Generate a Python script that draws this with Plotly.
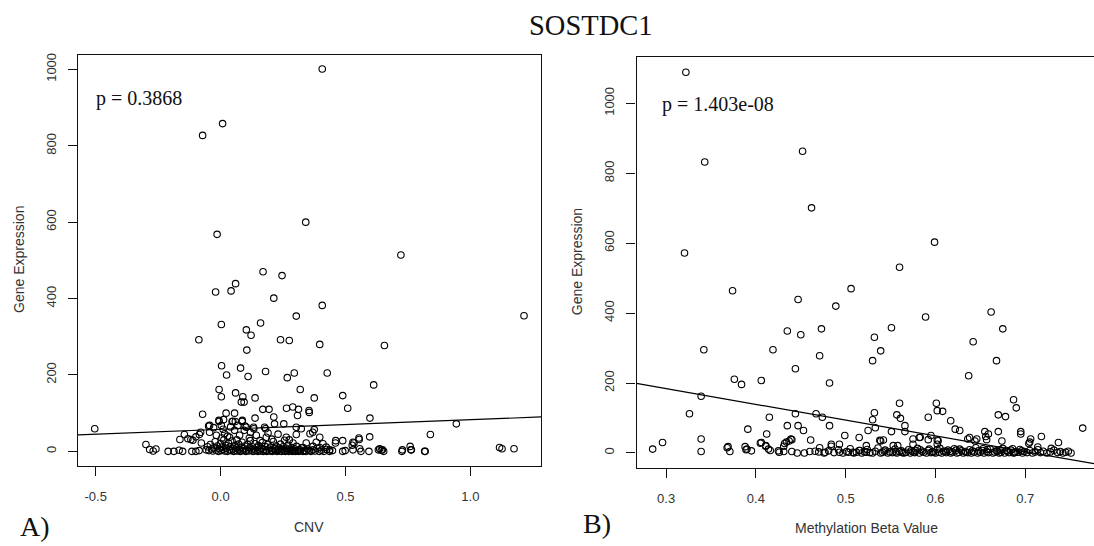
import plotly.graph_objects as go

# ---- Panel A: copy number variation vs gene expression ----
cnv_points = [
    (0.407, 1001), (0.008, 858), (-0.072, 827), (0.341, 600), (-0.014, 568), (0.722, 514),
    (0.170, 470), (0.246, 460), (0.060, 439), (0.042, 420), (-0.020, 417), (0.213, 401),
    (0.407, 382), (1.215, 355), (0.303, 354), (0.160, 336), (0.003, 332), (0.103, 318),
    (0.122, 304), (-0.087, 292), (0.240, 292), (0.275, 290), (0.397, 280), (0.656, 277),
    (0.105, 265), (0.004, 224), (0.080, 218), (0.180, 209), (0.295, 205), (0.427, 205),
    (0.024, 200), (0.110, 196), (0.267, 193), (0.613, 174), (-0.006, 162), (0.319, 162),
    (0.060, 153), (0.489, 146), (0.003, 143), (0.089, 143), (0.138, 140), (0.375, 140),
    (0.083, 129), (0.094, 129), (0.169, 110), (0.194, 110), (0.264, 113), (0.289, 116),
    (0.312, 110), (0.509, 113), (-0.072, 97), (0.022, 100), (0.056, 100), (0.355, 102),
    (0.308, 94), (0.138, 87), (0.213, 90), (0.598, 87), (0.046, 78), (0.059, 78),
    (0.086, 78), (-0.006, 78), (0.944, 72), (0.253, 72), (0.216, 72), (-0.504, 59),
    (0.098, 66), (0.133, 59), (0.180, 59), (0.323, 59), (-0.048, 66), (0.597, 38),
    (0.840, 44), (0.303, 44), (0.358, 46), (0.369, 50), (0.375, 57), (-0.085, 44),
    (-0.080, 50), (-0.099, 38), (-0.145, 44), (-0.163, 31), (-0.119, 31), (0.555, 31),
    (0.461, 28), (0.489, 28), (0.534, 22), (0.527, 16), (0.460, 22), (0.759, 13),
    (-0.299, 18), (1.117, 10), (1.127, 7), (1.175, 7),
    (-0.284, 5), (-0.270, 1), (-0.259, 6), (-0.210, 0), (-0.187, 0), (-0.166, 3),
    (-0.152, 0), (-0.115, 0), (-0.099, 0), (-0.086, 2), (0.489, 0), (0.499, 2),
    (0.530, 4), (0.562, 0), (0.594, 0), (0.632, 4), (0.643, 3), (0.653, 0),
    (0.726, 0), (0.762, 4), (0.819, 0), (0.728, 4), (0.764, 4), (0.817, 0),
    (-0.007, 81), (0.012, 83), (0.003, 68), (-0.044, 68), (-0.028, 62), (0.049, 79),
    (0.087, 81), (0.069, 68), (0.056, 55), (0.103, 63), (0.132, 63), (0.176, 63),
    (0.303, 63), (-0.044, 50), (-0.017, 42), (0.016, 46), (0.036, 37), (0.076, 42),
    (0.143, 42), (0.183, 37), (0.263, 37), (-0.111, 29), (-0.077, 22), (-0.131, 33),
    (0.256, 29), (0.290, 22), (0.343, 22), (0.354, 107), (0.397, 37), (0.383, 24),
    (0.410, 20), (0.423, 11), (0.437, 4), (0.397, 10), (0.370, 13), (0.330, 10),
    (0.530, 24), (0.554, 35), (0.557, 7), (0.637, 7), (0.648, 4),
    (0.005, 35), (0.028, 40), (0.065, 30), (0.115, 35), (0.158, 28), (0.205, 32),
    (0.230, 45), (0.275, 30), (0.120, 50), (0.095, 55), (0.190, 48), (0.010, 58),
    (0.040, 64),
    (-0.058, 4), (-0.052, 12), (-0.047, 2), (-0.041, 18), (-0.036, 6), (-0.031, 1),
    (-0.027, 9), (-0.022, 25), (-0.018, 3), (-0.013, 14), (-0.009, 0), (-0.005, 7),
    (-0.001, 20), (0.002, 2), (0.006, 11), (0.010, 5), (0.013, 30), (0.017, 1),
    (0.020, 16), (0.024, 8), (0.027, 0), (0.031, 22), (0.035, 4), (0.038, 12),
    (0.042, 2), (0.046, 27), (0.049, 6), (0.053, 0), (0.057, 15), (0.061, 3),
    (0.064, 9), (0.068, 1), (0.072, 19), (0.075, 5), (0.079, 0), (0.083, 11),
    (0.086, 24), (0.090, 2), (0.094, 7), (0.097, 14), (0.101, 0), (0.105, 4),
    (0.108, 18), (0.112, 1), (0.116, 9), (0.119, 28), (0.123, 3), (0.127, 12),
    (0.130, 0), (0.134, 6), (0.138, 20), (0.141, 2), (0.145, 10), (0.149, 0),
    (0.152, 15), (0.156, 4), (0.160, 1), (0.163, 8), (0.167, 23), (0.171, 0),
    (0.174, 5), (0.178, 13), (0.182, 2), (0.185, 0), (0.189, 18), (0.193, 6),
    (0.196, 1), (0.200, 11), (0.204, 3), (0.207, 0), (0.211, 26), (0.215, 7),
    (0.218, 2), (0.222, 14), (0.226, 0), (0.229, 4), (0.233, 9), (0.237, 1),
    (0.240, 19), (0.244, 0), (0.248, 6), (0.251, 12), (0.255, 2), (0.259, 0),
    (0.262, 8), (0.266, 3), (0.270, 16), (0.273, 0), (0.277, 5), (0.281, 1),
    (0.285, 10), (0.289, 0), (0.292, 3), (0.296, 7), (0.300, 0), (0.304, 13),
    (0.308, 2), (0.312, 0), (0.316, 5), (0.320, 1), (0.325, 9), (0.330, 0),
    (0.336, 3), (0.342, 0), (0.348, 6), (0.355, 2), (0.362, 0), (0.370, 4),
    (0.378, 1), (0.386, 8), (0.395, 0), (0.404, 3), (0.414, 0), (0.425, 5),
    (0.436, 0), (0.448, 2),
]
cnv_fit = (57.5, 25.35)          # intercept, slope of the least-squares line
cnv_p = "p = 0.3868"

# ---- Panel B: methylation beta value vs gene expression ----
meth_points = [
    (0.322, 1089), (0.343, 832), (0.452, 863), (0.462, 701), (0.599, 603), (0.3205, 572),
    (0.560, 531), (0.374, 464), (0.506, 470), (0.447, 439), (0.489, 420), (0.589, 389),
    (0.662, 403), (0.675, 355), (0.473, 355), (0.551, 358), (0.435, 349), (0.450, 338),
    (0.532, 331), (0.642, 318), (0.342, 295), (0.419, 295), (0.539, 292), (0.471, 278),
    (0.530, 264), (0.668, 264), (0.444, 241), (0.637, 221), (0.376, 211), (0.406, 207),
    (0.384, 196), (0.482, 200), (0.339, 162), (0.560, 142), (0.601, 142), (0.687, 152),
    (0.690, 129), (0.602, 121), (0.608, 119), (0.326, 112), (0.444, 112), (0.467, 112),
    (0.532, 115), (0.557, 109), (0.670, 109), (0.415, 102), (0.474, 102), (0.592, 102),
    (0.678, 104), (0.530, 95), (0.561, 99), (0.617, 92), (0.435, 78), (0.447, 78),
    (0.482, 78), (0.533, 72), (0.566, 78), (0.764, 71), (0.391, 68), (0.453, 64),
    (0.525, 64), (0.622, 68), (0.627, 64), (0.566, 61), (0.551, 61), (0.670, 61),
    (0.695, 61), (0.655, 61), (0.659, 54), (0.695, 54), (0.412, 54), (0.499, 50),
    (0.515, 44), (0.595, 50), (0.582, 44), (0.706, 40), (0.718, 47), (0.339, 40),
    (0.439, 40), (0.437, 34), (0.461, 37), (0.542, 37), (0.539, 34), (0.602, 37),
    (0.638, 44), (0.656, 47), (0.296, 30), (0.432, 27), (0.406, 30), (0.737, 30),
    (0.704, 27), (0.674, 34), (0.369, 18), (0.388, 18), (0.411, 21), (0.484, 25),
    (0.493, 25), (0.575, 25), (0.602, 25), (0.714, 17), (0.729, 13), (0.285, 11),
    (0.339, 4), (0.371, 4), (0.390, 11), (0.395, 6), (0.414, 11), (0.425, 6),
    (0.431, 4), (0.440, 4), (0.446, 0), (0.454, 0), (0.460, 4),
    (0.603, 35), (0.636, 40), (0.646, 40), (0.644, 34), (0.657, 38), (0.705, 31),
    (0.538, 36), (0.553, 21), (0.558, 21), (0.523, 21), (0.583, 45), (0.592, 38),
    (0.575, 40), (0.368, 15), (0.389, 9), (0.405, 28), (0.411, 19), (0.416, 7),
    (0.426, 2), (0.431, 19), (0.434, 31), (0.440, 38), (0.466, 5), (0.471, 15),
    (0.477, 2), (0.484, 19), (0.493, 2), (0.503, 2), (0.508, 2), (0.516, 7), (0.523, 2),
    (0.470, 3), (0.476, 0), (0.481, 6), (0.487, 1), (0.492, 9), (0.497, 0),
    (0.501, 4), (0.505, 12), (0.509, 0), (0.512, 2), (0.515, 7), (0.518, 0),
    (0.521, 3), (0.524, 10), (0.527, 1), (0.530, 0), (0.533, 5), (0.536, 14),
    (0.539, 0), (0.541, 2), (0.544, 8), (0.547, 0), (0.549, 3), (0.552, 1),
    (0.555, 11), (0.557, 0), (0.560, 4), (0.562, 6), (0.565, 0), (0.567, 2),
    (0.570, 9), (0.572, 0), (0.575, 3), (0.577, 1), (0.580, 13), (0.582, 0),
    (0.585, 5), (0.587, 2), (0.590, 0), (0.592, 7), (0.595, 1), (0.597, 4),
    (0.600, 0), (0.602, 10), (0.604, 2), (0.607, 0), (0.609, 5), (0.612, 1),
    (0.614, 8), (0.617, 0), (0.619, 3), (0.621, 12), (0.624, 0), (0.626, 2),
    (0.629, 6), (0.631, 0), (0.633, 4), (0.636, 1), (0.638, 9), (0.640, 0),
    (0.643, 3), (0.645, 15), (0.647, 0), (0.650, 2), (0.652, 7), (0.654, 0),
    (0.657, 4), (0.659, 1), (0.661, 11), (0.664, 0), (0.666, 3), (0.668, 6),
    (0.671, 0), (0.673, 2), (0.675, 13), (0.677, 0), (0.680, 5), (0.682, 1),
    (0.684, 8), (0.687, 0), (0.689, 3), (0.692, 2), (0.694, 10), (0.697, 0),
    (0.699, 4), (0.702, 1), (0.705, 7), (0.708, 0), (0.711, 3), (0.714, 9),
    (0.717, 1), (0.720, 5), (0.724, 0), (0.728, 3), (0.732, 8), (0.736, 1),
    (0.739, 4), (0.742, 0), (0.745, 2), (0.748, 5), (0.751, 0),
    (0.556, 3), (0.578, 7), (0.598, 2), (0.611, 5), (0.623, 8), (0.634, 2),
    (0.648, 6), (0.658, 10), (0.669, 4), (0.679, 7), (0.688, 1), (0.696, 6),
    (0.583, 9), (0.563, 1), (0.543, 5), (0.605, 13), (0.627, 11), (0.653, 12),
    (0.672, 9), (0.686, 12), (0.641, 6), (0.616, 4), (0.593, 11), (0.573, 6),
]
meth_fit = (319.4, -451.0)
meth_p = "p = 1.403e-08"

# ---- axis settings ----
cnv_range = [-0.571, 1.283]
expr_range_a = [-39.1, 1038]
meth_range = [0.267, 0.7766]
expr_range_b = [-43.9, 1131.4]

cnv_ticks = [-0.5, 0.0, 0.5, 1.0]
cnv_ticktext = ["-0.5", "0.0", "0.5", "1.0"]
meth_ticks = [0.3, 0.4, 0.5, 0.6, 0.7]
meth_ticktext = ["0.3", "0.4", "0.5", "0.6", "0.7"]
expr_ticks = [0, 200, 400, 600, 800, 1000]

W, H = 1094, 546
SERIF = "Liberation Serif, Times New Roman, serif"
SANS = "Liberation Sans, Arial, sans-serif"

fig = go.Figure()

marker = dict(symbol="circle-open", size=6.5, color="black", line=dict(width=1.1))


def add_panel(points, fit, xr, xa, ya):
    xs = [p[0] for p in points]
    ys = [p[1] for p in points]
    fig.add_trace(go.Scatter(x=xs, y=ys, mode="markers", marker=marker,
                             xaxis=xa, yaxis=ya, showlegend=False, hoverinfo="x+y"))
    b0, b1 = fit
    fig.add_trace(go.Scatter(x=xr, y=[b0 + b1 * v for v in xr], mode="lines",
                             line=dict(color="black", width=1.2),
                             xaxis=xa, yaxis=ya, showlegend=False, hoverinfo="skip"))


add_panel(cnv_points, cnv_fit, cnv_range, "x", "y")
add_panel(meth_points, meth_fit, meth_range, "x2", "y2")

tickfont = dict(family=SANS, size=13, color="#333333")
common = dict(showgrid=False, zeroline=False, showline=True, linecolor="#111111",
              linewidth=1.3, ticks="outside", ticklen=9, tickwidth=1.1,
              tickcolor="#111111", tickfont=tickfont)

fig.update_layout(
    width=W, height=H,
    margin=dict(l=0, r=0, t=0, b=0),
    paper_bgcolor="white", plot_bgcolor="white",
    xaxis=dict(domain=[78 / W, 541 / W], range=cnv_range, tickvals=cnv_ticks,
               ticktext=cnv_ticktext, mirror=True, anchor="y",
               ticklabelstandoff=9, **common),
    yaxis=dict(domain=[1 - 466 / H, 1 - 53 / H], range=expr_range_a, tickvals=expr_ticks,
               tickangle=-90, mirror=True, anchor="x", ticklabelstandoff=7, **common),
    xaxis2=dict(domain=[636.5 / W, 1.0], range=meth_range, tickvals=meth_ticks,
                ticktext=meth_ticktext, mirror=True, anchor="y2",
                ticklabelstandoff=9, **common),
    yaxis2=dict(domain=[1 - 468 / H, 1 - 55.6 / H], range=expr_range_b, tickvals=expr_ticks,
                tickangle=-90, mirror=False, anchor="x2", ticklabelstandoff=7, **common),
)


def label(text, px, py, size, family, angle=0, xanchor="center", color="#111111"):
    fig.add_annotation(text=text, x=px / W, y=1 - py / H, xref="paper", yref="paper",
                       showarrow=False, textangle=angle, xanchor=xanchor, yanchor="middle",
                       font=dict(family=family, size=size, color=color))


label("SOSTDC1", 591, 23.5, 28.5, SERIF)
label("Gene Expression", 19.6, 258.3, 14, SANS, angle=-90, color="#333333")
label("Gene Expression", 576.7, 260.5, 14, SANS, angle=-90, color="#333333")
label("CNV", 308.7, 527, 14, SANS, color="#333333")
label("Methylation Beta Value", 866.8, 528, 14, SANS, color="#333333")
label("A)", 35, 526, 28, SERIF)
label("B)", 596.5, 523, 28, SERIF)
label(cnv_p, 94.3, 96.7, 20, SERIF, xanchor="left")
label(meth_p, 660, 103.3, 20, SERIF, xanchor="left")

fig.write_html("out.html")
